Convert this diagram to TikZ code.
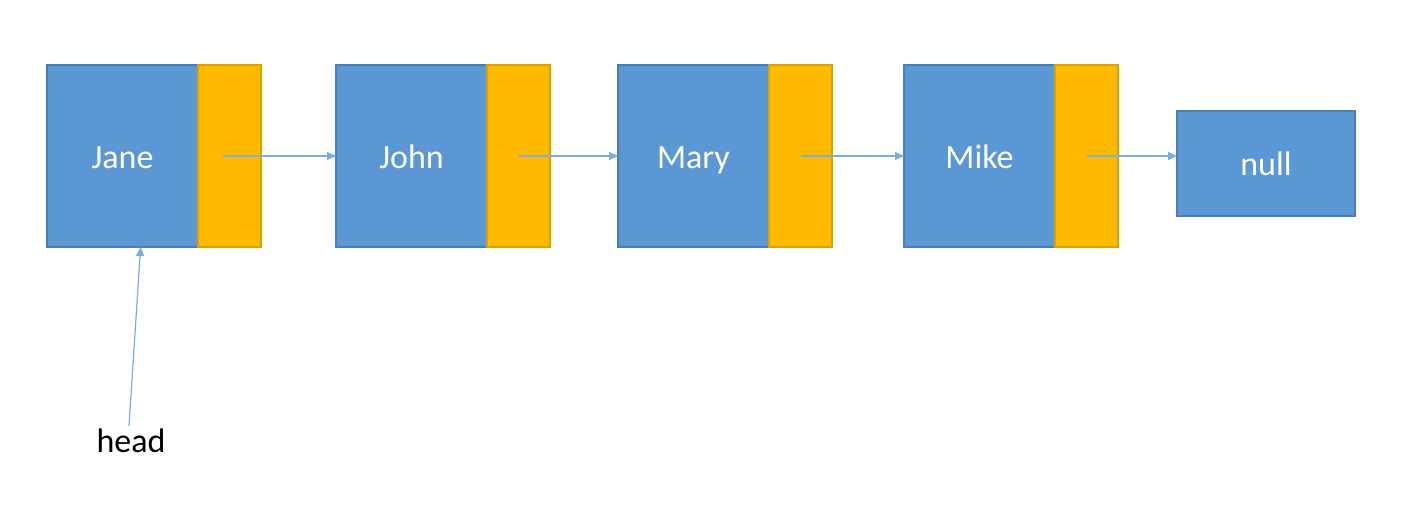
\documentclass[tikz,border=0pt]{standalone}
\usepackage{fontspec}
\setmainfont{Carlito}
\usepackage{xcolor}
\usepackage{tikz}
\usetikzlibrary{arrows.meta,calc,positioning}

\definecolor{cellblue}{HTML}{5B97D5}
\definecolor{cellblueline}{HTML}{4A7DB5}
\definecolor{cellgold}{HTML}{FFBA00}
\definecolor{cellgoldline}{HTML}{D9A200}
\definecolor{linkblue}{HTML}{7AAEDF}

\begin{document}
\begin{tikzpicture}[
  x=1pt, y=-1pt,
  data/.style={draw=cellblueline, fill=cellblue, line width=1.5pt, text=white,
    minimum width=151pt, minimum height=182pt, inner sep=0pt, outer sep=0pt,
    text height=29pt, text depth=5pt,
    anchor=north west, font=\fontsize{34}{40}\selectfont},
  ptr/.style={draw=cellgoldline, fill=cellgold, line width=1.5pt,
    minimum width=63pt, minimum height=182pt, inner sep=0pt, outer sep=0pt},
  link/.style={-{Triangle[length=9pt,width=8pt]}, line width=1.2pt, draw=linkblue},
]
\useasboundingbox (0,0) rectangle (1412,506);

\node[data] (jane) at (47,65) {Jane};
\node[ptr, right=0pt of jane] (jane-p) {};
\node[data] (john) at (336,65) {John};
\node[ptr, right=0pt of john] (john-p) {};
\node[data] (mary) at (618,65) {Mary};
\node[ptr, right=0pt of mary] (mary-p) {};
\node[data] (mike) at (904,65) {Mike};
\node[ptr, right=0pt of mike] (mike-p) {};
\node[data, minimum width=178pt, minimum height=105pt] (null) at (1177,111) {null};

\node[font=\fontsize{34}{40}\selectfont, inner sep=3pt] (head) at (131,441) {head};

\draw[link] ([xshift=-7pt]jane-p.center) -- (john.west);
\draw[link] (john-p.center) -- (mary.west);
\draw[link] (mary-p.center) -- (mike.west);
\draw[link] (mike-p.center) -- (mike-p.center -| null.west);
\draw[link] ([xshift=-2pt]head.north) -- ($(jane.south west)!0.62!(jane.south east)$);
\end{tikzpicture}
\end{document}
